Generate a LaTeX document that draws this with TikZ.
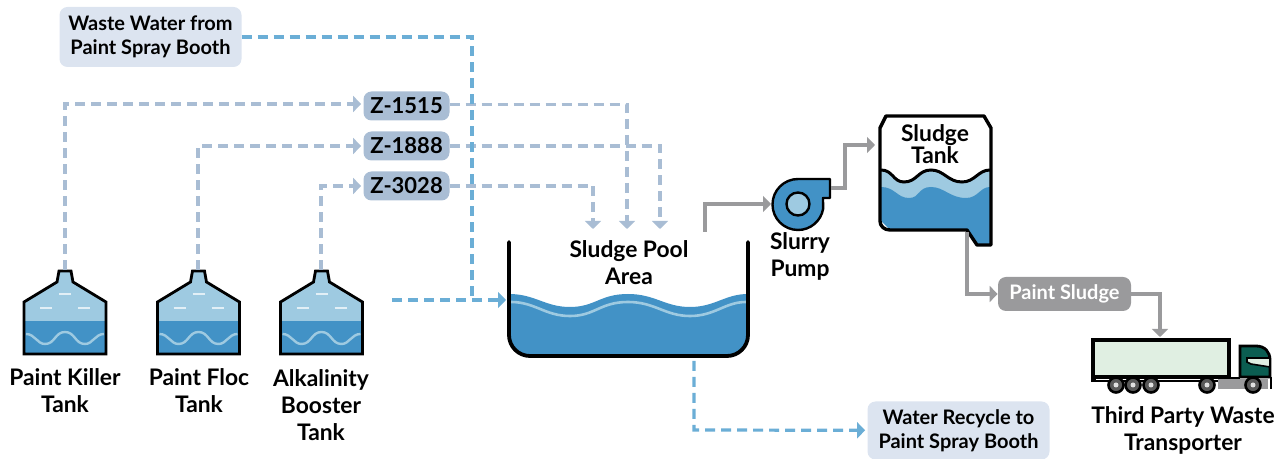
\documentclass[tikz,border=0pt]{standalone}
\usepackage{fontspec}
\setmainfont{Lato}
\usetikzlibrary{arrows.meta}
\definecolor{waterdark}{HTML}{4292C6}
\definecolor{waterlight}{HTML}{9ECAE1}
\definecolor{chemline}{HTML}{A9BDD4}
\definecolor{waterline}{HTML}{6BAED6}
\definecolor{paleblue}{HTML}{DCE4F0}
\definecolor{slurry}{HTML}{9A9A9C}
\definecolor{cabgreen}{HTML}{0B5D51}
\definecolor{trailer}{HTML}{E0EFE2}
\tikzset{
  label/.style={font=\bfseries\fontsize{11.4}{13.5}\selectfont,align=center,inner sep=0pt},
  dosing/.style={label,font=\bfseries\fontsize{11}{13}\selectfont,fill=chemline,rounded corners=4pt,minimum width=43pt,minimum height=14.5pt},
  water/.style={label,font=\bfseries\fontsize{10}{12}\selectfont,fill=paleblue,rounded corners=4pt,minimum width=91pt},
  chemnotip/.style={draw=chemline,line width=1.6pt,dash pattern=on 5pt off 3pt},
  chemflow/.style={chemnotip,-{Triangle[length=4pt,width=8pt]},shorten >=1pt},
  waternotip/.style={draw=waterline,line width=1.6pt,dash pattern=on 5pt off 3pt},
  waterflow/.style={waternotip,-{Triangle[length=4pt,width=8pt]},shorten >=1pt},
  sludgeflow/.style={draw=slurry,line width=1.6pt,-{Triangle[length=4pt,width=8pt]}},
  tank/.pic={
    \fill[waterlight] (-41,84) -- (-41,32) -- (-8,12) -- (-6,1) -- (6,1) -- (8,12) -- (41,32) -- (41,84) -- cycle;
    \fill[waterdark] (-41,51) rectangle (41,84);
    \draw[waterlight,line width=1.2pt] (-39,64) .. controls (-30,64) and (-28,74) .. (-20,74) .. controls (-10,74) and (-10,62) .. (0,62) .. controls (10,62) and (10,74) .. (20,74) .. controls (28,74) and (30,64) .. (39,64);
    \draw[black,line width=1.4pt,line join=miter] (-41,84) -- (-41,32) -- (-8,12) -- (-6,1) -- (6,1) -- (8,12) -- (41,32) -- (41,84) -- cycle;
    \draw[white,opacity=.7,line width=.8pt] (-6,24) -- (6,24) (-25,38) -- (-13,38) (13,38) -- (25,38);
  }
}
\begin{document}
\begin{tikzpicture}[x=0.5pt,y=-0.5pt]
\useasboundingbox (0,0) rectangle (1287,459);
%tanks
\pic at (65,270) {tank};
\pic at (198.5,270) {tank};
\pic at (321.5,270) {tank};
\coordinate (killertop) at (65,270);
\coordinate (floctop) at (198,270);
\coordinate (alkatop) at (321,270);

\node[label] (killer) at (65,391) {Paint Killer\\Tank};
\node[label] (floc) at (199,391) {Paint Floc\\Tank};
\node[label] (alka) at (321,405) {Alkalinity\\Booster\\Tank};

%dosing points
\node[dosing] (z1515) at (406.5,106) {Z-1515};
\node[dosing] (z1888) at (406.5,146) {Z-1888};
\node[dosing] (z3028) at (406.5,186) {Z-3028};

\node[water,minimum height=30pt] (waste) at (150.5,37) {Waste Water from\\Paint Spray Booth};
\node[water,minimum height=29pt] (recycle) at (958.5,430.5) {Water Recycle to\\Paint Spray Booth};

%pool
\fill[waterdark] (509,294) .. controls (535,294) and (545,307) .. (570,307) .. controls (595,307) and (600,294) .. (628,294) .. controls (655,294) and (665,307) .. (690,307) .. controls (715,307) and (725,294) .. (748,294) -- (748,335) arc (0:90:21) -- (530,356) arc (90:180:21) -- cycle;
\draw[waterlight,line width=1.3pt] (511,302) .. controls (535,302) and (545,316) .. (570,316) .. controls (595,316) and (600,302) .. (628,302) .. controls (655,302) and (665,316) .. (690,316) .. controls (715,316) and (725,302) .. (746,302);
\draw[line width=1.9pt,line cap=round] (509,242) -- (509,335) arc (180:90:21) -- (727,356) arc (90:0:21) -- (748,242);
\node[label] (pool) at (629,263) {Sludge Pool\\Area};
\coordinate (poolin) at (508,300);
\coordinate (poolout) at (694,361);
\coordinate (poolup) at (705,232);
\coordinate (alkaout) at (392,300);
\coordinate (wastejoin) at (472,300);

%pump
\fill[waterdark,draw=black,line width=1.2pt,line join=round] (830,179) -- (798,179) arc (270:90:25.5) arc (90:10:25.5) -- (823,198) -- (830,198) -- cycle;
\node[circle,fill=waterlight,draw=black,line width=1.2pt,minimum size=11.5pt,inner sep=0pt] (pump) at (798,204) {};
\node[label] (pumplabel) at (800,256) {Slurry\\Pump};
\coordinate (pumpout) at (831,188);

%sludge tank
\fill[waterlight] (881,170) .. controls (893,170) and (893,182) .. (904,182) .. controls (917,182) and (918,170) .. (931,170) .. controls (944,170) and (948,182) .. (962,182) .. controls (975,182) and (978,170) .. (990,170) -- (990,205) -- (881,205) -- cycle;
\fill[waterdark] (881,187) .. controls (895,187) and (897,198) .. (909,198) .. controls (920,198) and (918,187) .. (931,187) .. controls (944,187) and (950,198) .. (966,198) .. controls (978,198) and (980,187) .. (990,187) -- (990,245) -- (977,245) -- (967,230) -- (890,230) -- (881,221) -- cycle;
\draw[line width=1.5pt] (881,170) .. controls (893,170) and (893,182) .. (904,182) .. controls (917,182) and (918,170) .. (931,170) .. controls (944,170) and (948,182) .. (962,182) .. controls (975,182) and (978,170) .. (990,170);
\draw[line width=1.7pt,line join=round] (886,116) -- (984,116) -- (991,128) -- (991,245) -- (977,245) -- (967,230) -- (890,230) .. controls (884,230) and (880,226) .. (880,221) -- (880,128) -- cycle;
\node[label,font=\bfseries\fontsize{11.4}{11}\selectfont] (sludgetank) at (935,144) {Sludge\\Tank};
\coordinate (tankin) at (875,145);
\coordinate (tankout) at (967,232);

\node[label,font=\bfseries\fontsize{10}{12}\selectfont,fill=slurry,text=white,rounded corners=4pt,minimum width=66.5pt,minimum height=17pt] (paintsludge) at (1064.5,294) {Paint Sludge};

%truck
\fill[black] (1091,338) rectangle (1231,382);
\fill[trailer] (1095,342) rectangle (1227,375);
\draw[white,line width=.4pt] (1096,379) -- (1218,379);
\fill[slurry] (1218,379) rectangle (1268,389);
\draw[line width=1.2pt] (1229,378) -- (1240,378);
\draw[line width=1.2pt] (1271,377) -- (1271,389);
\path[fill=cabgreen,draw=black,line width=1.4pt] (1240,346) -- (1256,346) .. controls (1265,346) and (1270,352) .. (1270,360) -- (1270,377) -- (1240,377) -- cycle;
\fill[trailer,draw=black,line width=.8pt] (1247,358) -- (1270,358) -- (1270,367) -- (1251,364) -- (1247,362) -- cycle;
\foreach \wheelx in {1116,1133,1151,1207,1253}
  \draw[fill=black!65,draw=black,line width=1.3pt] (\wheelx,385) circle (7.5);
\foreach \wheelx in {1116,1133,1151,1207,1253}
  \fill[black!12] (\wheelx,385) circle (2.5);
\coordinate (truckin) at (1160,337);
\node[label] (transport) at (1183,430) {Third Party Waste\\Transporter};

%connectors
\draw[chemflow] (killertop) -- (65,104) -- (z1515.west |- 65,104);
\draw[chemflow] (floctop) -- (198,146) -- (z1888);
\draw[chemflow] (alkatop) -- (321,186) -- (z3028);
\draw[chemflow] (z1515) ++(43,-1.5) -- (627,104.5) -- (627,231);
\draw[chemflow] (z1888) ++(43,0) -- (660,146) -- (660,231);
\draw[chemflow] (z3028) ++(43,0) -- (593,186) -- (593,231);
\draw[waternotip] (waste) ++(91,0) -- (472,37) -- (wastejoin);
\draw[waterflow] (alkaout) -- (poolin);
\draw[waterflow] (poolout) -- (694,430) -- (recycle);
\draw[sludgeflow] (poolup) -- (705,204) -- (771,204);
\draw[sludgeflow] (pumpout) -- (845,188) -- (845,145) -- (tankin);
\draw[sludgeflow] (tankout) -- (967,294) -- (paintsludge);
\draw[sludgeflow] (paintsludge) -- (1160,294) -- (truckin);
\end{tikzpicture}
\end{document}
